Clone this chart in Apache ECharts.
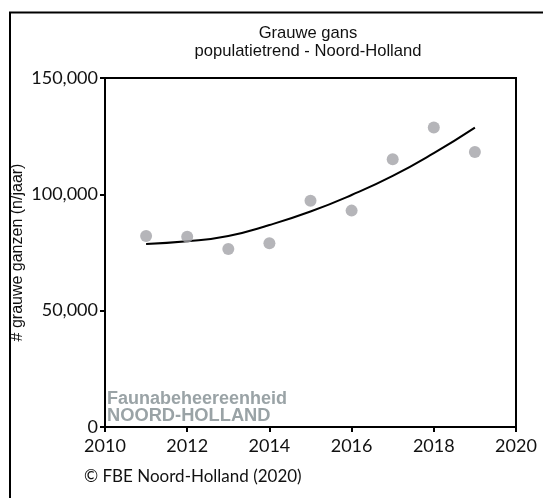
<!DOCTYPE html>
<html>
<head>
<meta charset="utf-8">
<script src="https://cdn.jsdelivr.net/npm/echarts@6/dist/echarts.min.js"></script>
<style>html,body{margin:0;padding:0;background:#fff}#c{width:543px;height:498px}</style>
</head>
<body>
<div id="c"></div>
<script>
var years = [2011, 2012, 2013, 2014, 2015, 2016, 2017, 2018, 2019];
var counts = [82100, 81800, 76500, 79000, 97200, 93000, 115100, 128700, 118200];
var trend = [78700, 79800, 82100, 86800, 92600, 99700, 107900, 117700, 128700];
var xTicks = [2010, 2012, 2014, 2016, 2018, 2020];
var yTicks = [0, 50000, 100000, 150000];
var titleLines = ['Grauwe gans', 'populatietrend - Noord-Holland'];

var chart = echarts.init(document.getElementById('c'), null, {renderer: 'canvas'});
var tickFont = {fontFamily: 'Lato', fontSize: 18, color: '#111'};
chart.setOption({
  animation: false,
  backgroundColor: '#fff',
  grid: {left: 105, right: 27, top: 78, bottom: 71, outerBoundsMode: 'none', containLabel: false,
         show: true, borderColor: '#000', borderWidth: 2, backgroundColor: 'transparent'},
  xAxis: {
    type: 'value', min: xTicks[0], max: xTicks[xTicks.length - 1], interval: 2,
    splitLine: {show: false},
    axisLine: {lineStyle: {color: '#000', width: 2}},
    axisTick: {length: 5, lineStyle: {color: '#000', width: 2}},
    axisLabel: Object.assign({margin: 10, formatter: function (v) { return String(v); }}, tickFont)
  },
  yAxis: {
    type: 'value', min: yTicks[0], max: yTicks[yTicks.length - 1], interval: 50000,
    name: '# grauwe ganzen (n/jaar)', nameLocation: 'middle', nameRotate: 90, nameGap: 87,
    nameMoveOverlap: false,
    nameTextStyle: {fontFamily: 'Liberation Sans', fontSize: 16, color: '#111', verticalAlign: 'middle'},
    splitLine: {show: false},
    axisLine: {show: true, lineStyle: {color: '#000', width: 2}},
    axisTick: {show: true, length: 5, lineStyle: {color: '#000', width: 2}},
    axisLabel: Object.assign({margin: 7}, tickFont)
  },
  graphic: [
    {type: 'rect', shape: {x: 10, y: 12.5, width: 620, height: 600}, style: {fill: 'none', stroke: '#000', lineWidth: 2}, z: 100},
    {type: 'text', x: 308, y: 33, style: {text: titleLines[0], font: '16.6px "Liberation Sans"', fill: '#111', textAlign: 'center', textVerticalAlign: 'middle'}},
    {type: 'text', x: 308, y: 51, style: {text: titleLines[1], font: '16.6px "Liberation Sans"', fill: '#111', textAlign: 'center', textVerticalAlign: 'middle'}},
    {type: 'text', left: 107, top: 390, style: {text: 'Faunabeheereenheid', font: 'bold 18px "Liberation Sans"', fill: '#9aa3a6'}, z: 1},
    {type: 'text', left: 107, top: 407, style: {text: 'NOORD-HOLLAND', font: 'bold 18.3px "Liberation Sans"', fill: '#9aa3a6'}, z: 1},
    {type: 'text', left: 84, top: 468, style: {text: '\u00a9 FBE Noord-Holland (2020)', font: '17px Lato', fill: '#111'}}
  ],
  series: [
    {
      type: 'line', data: years.map(function (y, i) { return [y, trend[i]]; }),
      smooth: true, showSymbol: false, lineStyle: {color: '#000', width: 2}, z: 3
    },
    {
      type: 'scatter', data: years.map(function (y, i) { return [y, counts[i]]; }),
      symbolSize: 12, itemStyle: {color: '#a3a2a7'}, z: 4
    }
  ]
});
</script>
</body>
</html>
